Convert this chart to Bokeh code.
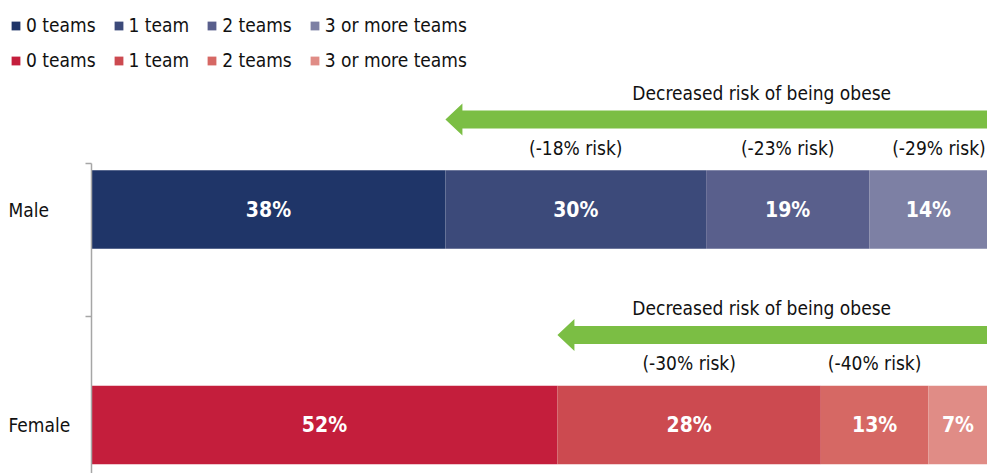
from bokeh.plotting import figure
from bokeh.models import (ColumnDataSource, Range1d, LinearAxis, FixedTicker,
                          Legend, LegendItem)
from bokeh.core.properties import value
from bokeh.embed import file_html
from bokeh.resources import INLINE

# ---------------- data ----------------
categories = ["Male", "Female"]
team_groups = ["0 teams", "1 team", "2 teams", "3 or more teams"]
male_values = [39.5, 29.1, 18.2, 13.2]          # bar widths (share of 100)
female_values = [52.0, 29.4, 12.0, 6.6]
male_labels = ["38%", "30%", "19%", "14%"]
female_labels = ["52%", "28%", "13%", "7%"]
male_risk = ["", "(-18% risk)", "(-23% risk)", "(-29% risk)"]
female_risk = ["", "(-30% risk)", "(-40% risk)", ""]
arrow_text = "Decreased risk of being obese"

# ---------------- styles ----------------
FONT = "DejaVu Sans Condensed"
FS = "19px"
male_colors = ["#1F3568", "#3C4A7A", "#595F8C", "#7D80A4"]
female_colors = ["#C41E3C", "#CC4A50", "#D66864", "#E08C86"]
GREEN = "#7BBE44"
AXIS_GRAY = "#A6A6A6"
TXT = "#111111"

W, H = 987, 473
FRAME_LEFT = 8                 # canvas px where the frame starts
ZERO_PX = 91                   # canvas px of value 0
PX_PER_UNIT = (W - ZERO_PX) / 100.0

ROW_CENTER = {"Male": 264.0, "Female": 48.5}
CATEGORY_BOUNDS = [157, 310]   # tick marks between / above the category bands
BAR_H = 78.5
ARROW_OFF, RISK_OFF, TEXT_OFF = 90.0, 62.0, 117.0
SHAFT_HALF, HEAD_HALF, HEAD_LEN_PX = 9.0, 16.0, 17.0
ARROW_TEXT_X = 74.8

x_start = -(ZERO_PX - FRAME_LEFT) / PX_PER_UNIT
p = figure(width=W, height=H, output_backend="svg", toolbar_location=None,
           x_range=Range1d(x_start, 100), y_range=Range1d(0, H),
           x_axis_location=None, y_axis_location=None,
           min_border_left=FRAME_LEFT, min_border_right=0,
           min_border_top=0, min_border_bottom=0)
p.grid.visible = False
p.outline_line_color = None
p.background_fill_color = "white"
p.border_fill_color = "white"

# category axis: only boundary tick marks (as minor ticks), no tick labels
yaxis = LinearAxis(ticker=FixedTicker(ticks=[], minor_ticks=CATEGORY_BOUNDS),
                   bounds=(0, CATEGORY_BOUNDS[-1]),
                   fixed_location=0,
                   major_tick_out=0, major_tick_in=0,
                   minor_tick_out=6, minor_tick_in=0,
                   axis_line_color=AXIS_GRAY, axis_line_width=1.5,
                   minor_tick_line_color=AXIS_GRAY, minor_tick_line_width=1.5,
                   major_label_standoff=0)
p.add_layout(yaxis, "left")

series = {
    "Male": (male_values, male_labels, male_risk, male_colors),
    "Female": (female_values, female_labels, female_risk, female_colors),
}

renderers = {}
for cat in categories:
    vals, labs, risks, cols = series[cat]
    yc = ROW_CENTER[cat]
    lefts, rights = [], []
    acc = 0.0
    for v in vals:
        lefts.append(acc)
        acc += v
        rights.append(acc)
    rs = []
    for i in range(len(vals)):
        src = ColumnDataSource(dict(y=[yc], left=[lefts[i]], right=[rights[i]]))
        r = p.hbar(y="y", left="left", right="right", height=BAR_H, source=src,
                   fill_color=cols[i], line_color=None)
        rs.append(r)
    renderers[cat] = rs

    mids = [(a + b) / 2 for a, b in zip(lefts, rights)]
    p.text(x=mids, y=[yc] * len(mids), text=labs,
           text_font=value(FONT), text_font_style="bold",
           text_font_size="21px", text_color="white",
           text_align="center", text_baseline="middle")

    # arrow from end of "0 teams" segment to the right edge
    tip = rights[0]
    ya = yc + ARROW_OFF
    hl = HEAD_LEN_PX / PX_PER_UNIT
    xs = [tip, tip + hl, tip + hl, 100.5, 100.5, tip + hl, tip + hl]
    ys = [ya, ya + HEAD_HALF, ya + SHAFT_HALF, ya + SHAFT_HALF,
          ya - SHAFT_HALF, ya - SHAFT_HALF, ya - HEAD_HALF]
    p.patch(xs, ys, fill_color=GREEN, line_color=None)

    p.text(x=[ARROW_TEXT_X], y=[yc + TEXT_OFF], text=[arrow_text],
           text_font=value(FONT), text_font_size=FS, text_color=TXT,
           text_align="center", text_baseline="middle")

    cx, ct, rx, rt = [], [], [], []
    for i, t in enumerate(risks):
        if not t:
            continue
        if i == len(risks) - 1:
            rx.append(99.8)
            rt.append(t)
        else:
            cx.append(mids[i])
            ct.append(t)
    if ct:
        p.text(x=cx, y=[yc + RISK_OFF] * len(cx), text=ct,
               text_font=value(FONT), text_font_size=FS, text_color=TXT,
               text_align="center", text_baseline="middle")
    if rt:
        p.text(x=rx, y=[yc + RISK_OFF] * len(rx), text=rt,
               text_font=value(FONT), text_font_size=FS, text_color=TXT,
               text_align="right", text_baseline="middle")

    # category label at the left edge
    p.text(x=[x_start], y=[yc], text=[cat],
           text_font=value(FONT), text_font_size=FS, text_color=TXT,
           text_align="left", text_baseline="middle")

legend_rows = [("Male", 436), ("Female", 401)]
for cat, vy in legend_rows:
    items = [LegendItem(label=g, renderers=[renderers[cat][i]])
             for i, g in enumerate(team_groups)]
    lg = Legend(items=items, orientation="horizontal", location=(2, vy),
                glyph_width=11, glyph_height=11, label_standoff=5, spacing=17,
                padding=0, margin=0, border_line_color=None,
                background_fill_alpha=0,
                label_text_font=FONT, label_text_font_size=FS,
                label_text_color=TXT, label_height=24)
    p.add_layout(lg)

open("out.html", "w").write(file_html(p, INLINE))
